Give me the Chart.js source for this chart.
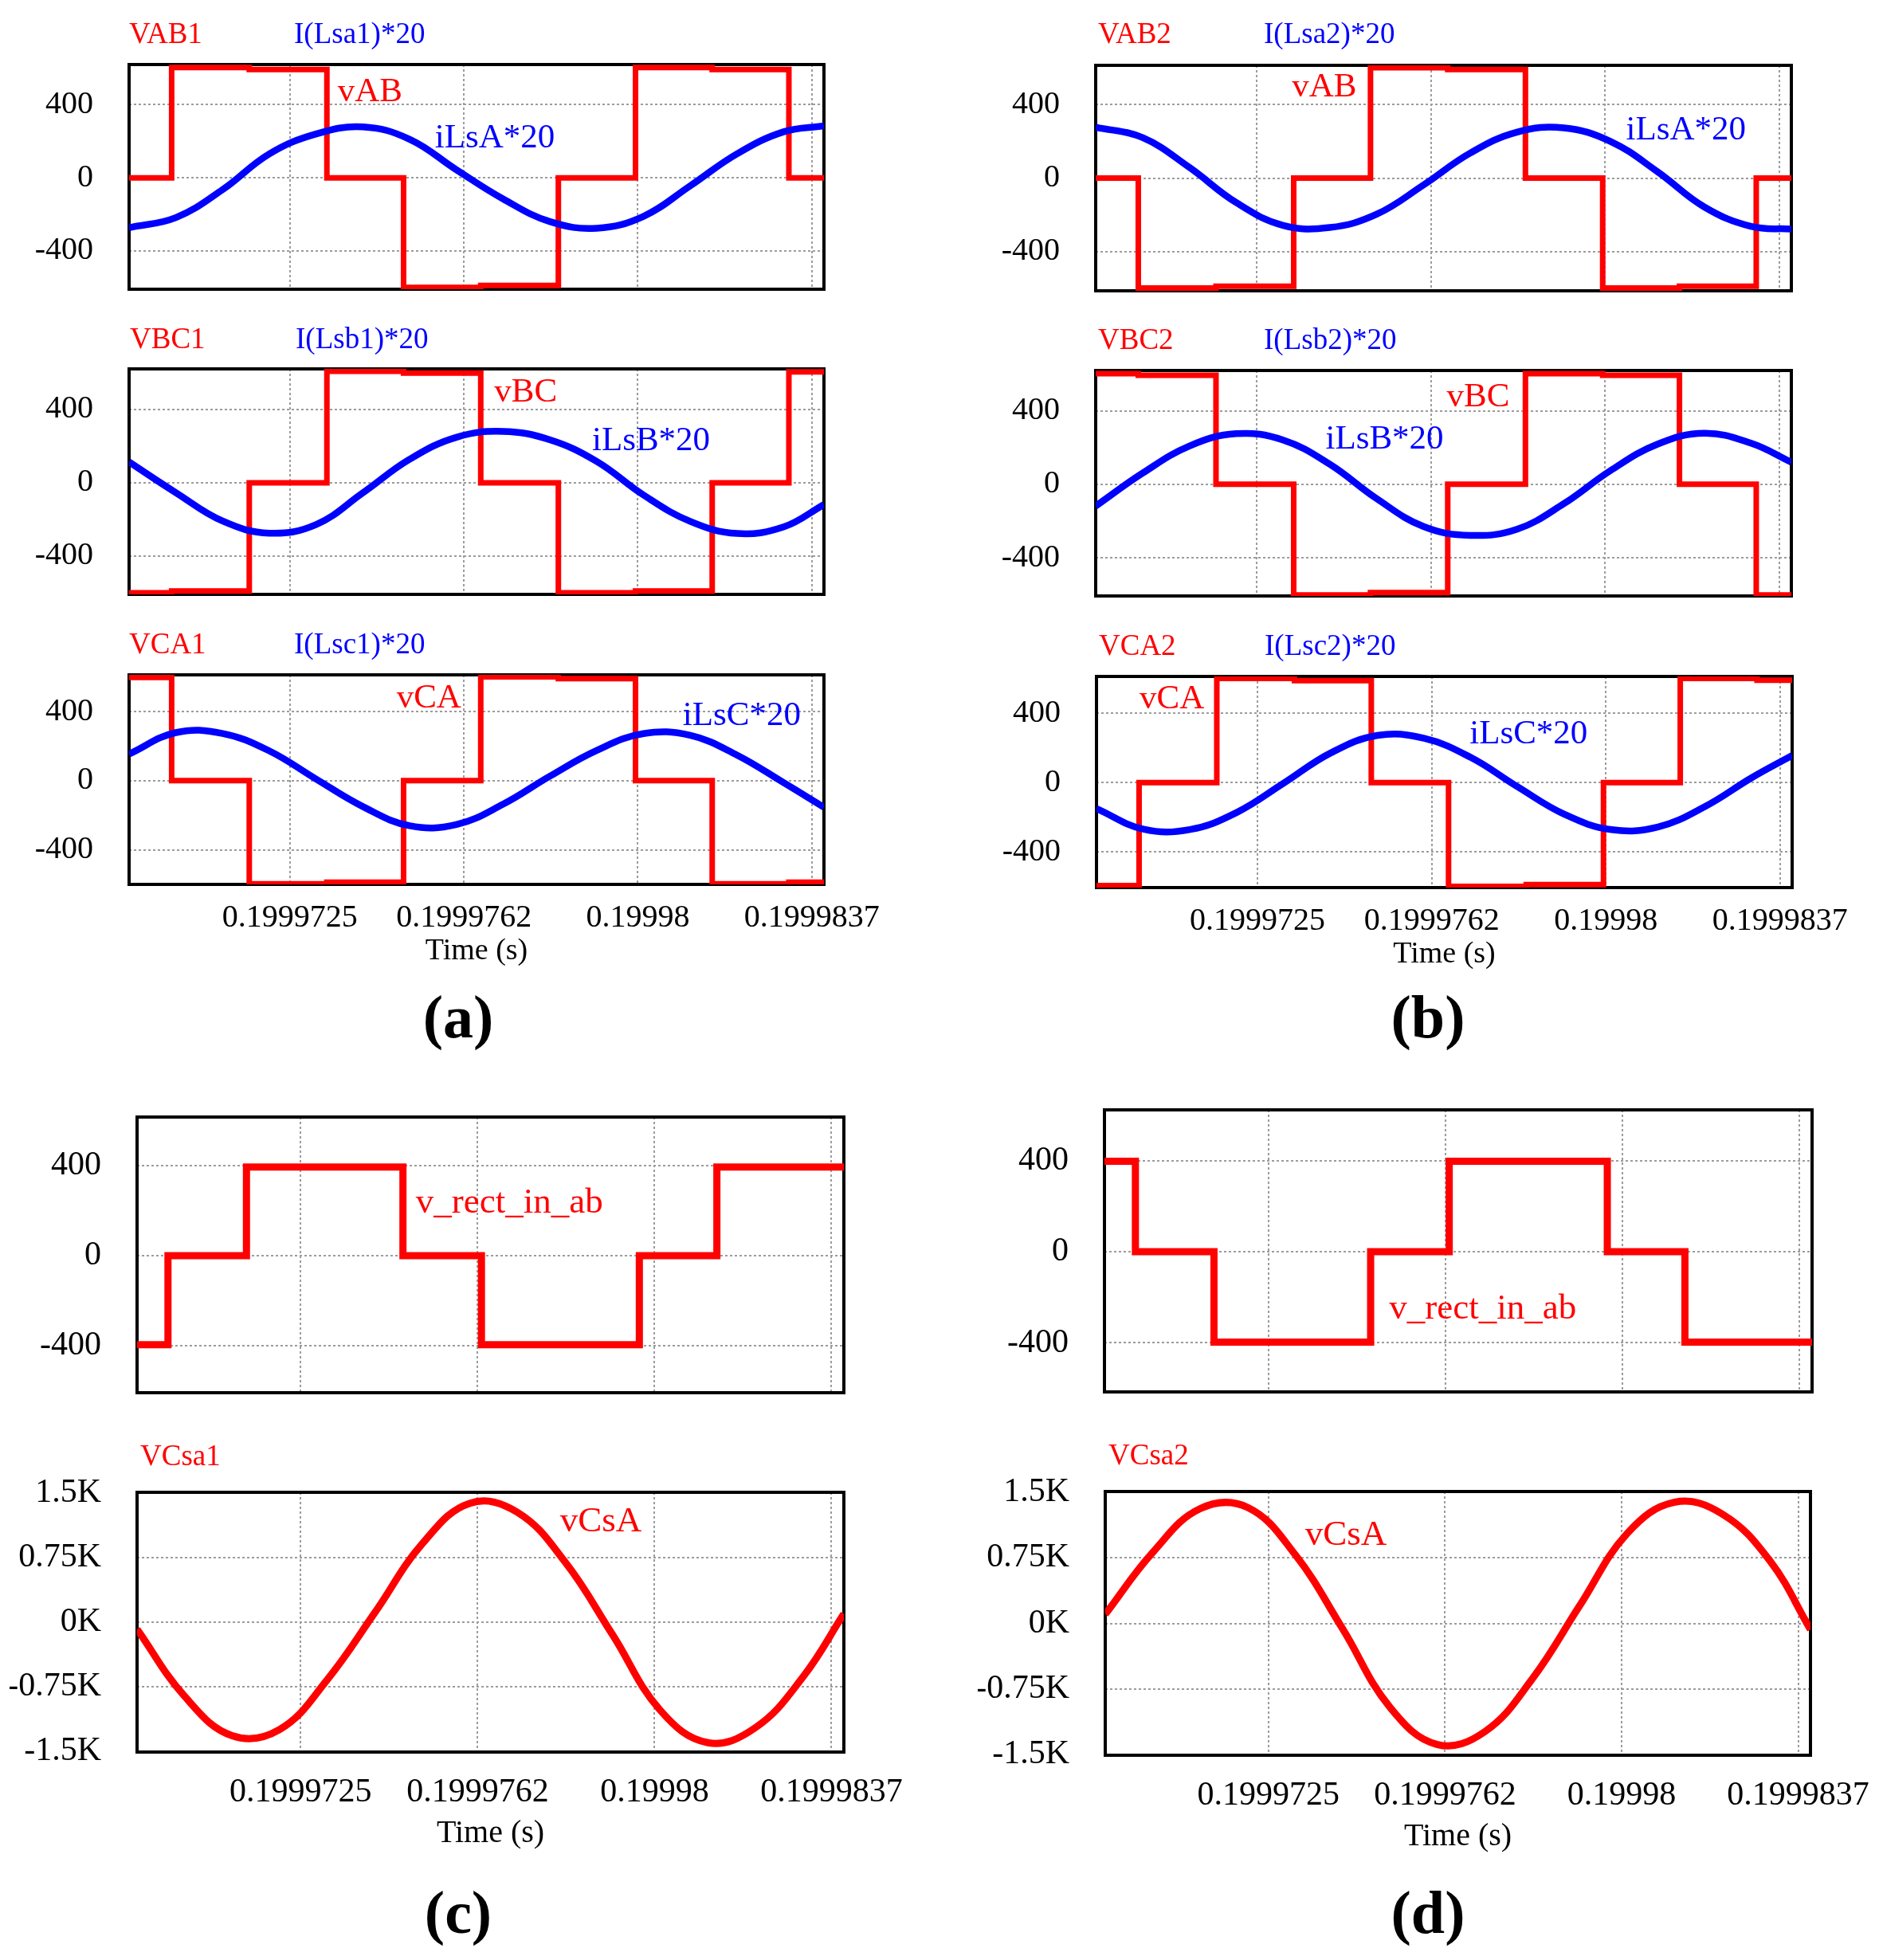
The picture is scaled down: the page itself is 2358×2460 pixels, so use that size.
<!DOCTYPE html>
<html>
<head>
<meta charset="utf-8">
<script src="https://cdn.jsdelivr.net/npm/chart.js@4.4.0/dist/chart.umd.min.js"></script>
<style>
  body { margin: 0; background: #fff; }
  #page { position: relative; width: 2358px; height: 2460px; overflow: hidden; background: #fff;
          font-family: "Liberation Serif", "Times New Roman", serif; }
  #page canvas { position: absolute; }
  .lbl { position: absolute; white-space: nowrap; line-height: 1; }
</style>
</head>
<body>
<div id="page"></div>
<script>
// x axis is in microseconds after t = 0.19996906 s
var xEndUs = 14.86;
var tickUs = [3.44, 7.16, 10.88, 14.60];
var tickLabels = ['0.1999725', '0.1999762', '0.19998', '0.1999837'];

var yTicksV = [-400, 0, 400];
var yLabelsV = ['-400', '0', '400'];
var yTicksK = [-1500, -750, 0, 750, 1500];
var yLabelsK = ['-1.5K', '-0.75K', '0K', '0.75K', '1.5K'];

// switching instants (us) of the line voltages in (a) and (b), level held in each interval
var stepEdgesUs = [0.91, 2.57, 4.23, 5.87, 7.52, 9.18, 10.83, 12.47, 14.11];
var vAB1 = [0, 604, 593, 0, -600, -589, 0, 604, 593, 0];
var vBC1 = [-600, -590, 0, 608, 598, 0, -600, -590, 0, 605];
var vCA1 = [597, 0, -597, -587, 0, 600, 590, 0, -597, -587];
var vAB2 = [0, -598, -588, 0, 600, 590, 0, -598, -588, 0];
var vBC2 = [602, 593, 0, -603, -590, 0, 602, 593, 0, -603];
var vCA2 = [-595, 0, 602, 590, 0, -600, -590, 0, 602, 592];

// rectifier input voltage in (c) and (d)
var rectEdgesUs = [0.65, 2.30, 5.59, 7.24, 10.56, 12.19];
var vRect1 = [-397, 0, 395, 0, -397, 0, 395];
var vRect2 = [397, 0, -397, 0, 397, 0, -397];

// sinusoidal traces read at these instants (us)
var sampleUs = [0, 1, 2, 3, 4, 5, 6, 7, 8, 9, 10, 11, 12, 13, 14, 14.86];
var iLsA1 = [-273, -218, -65, 131, 240, 279, 211, 44, -116, -240, -276, -211, -44, 131, 252, 284];
var iLsB1 = [113, -54, -209, -275, -228, -55, 128, 248, 280, 234, 116, -67, -211, -277, -241, -119];
var iLsC1 = [154, 278, 273, 172, 9, -150, -261, -254, -136, 26, 175, 272, 262, 148, -12, -154];
var iLsA2 = [277, 220, 58, -133, -257, -269, -197, -38, 136, 250, 273, 199, 35, -157, -263, -277];
var iLsB2 = [-119, 60, 208, 275, 241, 109, -78, -230, -278, -245, -106, 75, 218, 278, 223, 120];
var iLsC2 = [-150, -269, -271, -172, -3, 171, 273, 256, 145, -25, -184, -272, -256, -138, 29, 157];
var vCsA1 = [-82, -864, -1323, -1249, -669, 112, 916, 1386, 1279, 700, -149, -1027, -1404, -1229, -638, 98];
var vCsA2 = [105, 814, 1316, 1330, 790, -61, -963, -1390, -1242, -635, 205, 1033, 1390, 1255, 722, -70];

var RED = '#ff0000', BLUE = '#0000ff';
var FONT = '"Liberation Serif", "Times New Roman", serif';
Chart.defaults.font.family = FONT;
Chart.defaults.color = '#000';

var page = document.getElementById('page');

function stepPoints(edges, levels) {
    var pts = [];
    var x0 = 0;
    for (var i = 0; i < levels.length; i++) {
        var x1 = i < edges.length ? edges[i] : xEndUs;
        pts.push({ x: x0, y: levels[i] }, { x: x1, y: levels[i] });
        x0 = x1;
    }
    return pts;
}

function curvePoints(values) {
    return sampleUs.map(function (t, i) { return { x: t, y: values[i] }; });
}

function stepSet(edges, levels, width) {
    return { data: stepPoints(edges, levels), borderColor: RED, borderWidth: width || 7,
             tension: 0, borderJoinStyle: 'miter', borderCapStyle: 'butt' };
}

function curveSet(values, color, width) {
    return { data: curvePoints(values), borderColor: color, borderWidth: width || 8.5,
             tension: 0.4, borderJoinStyle: 'round' };
}

var framePlugin = {
    id: 'frame',
    beforeDatasetsDraw: function (chart) {
        var a = chart.chartArea, c = chart.ctx;
        c.save();
        c.strokeStyle = '#000';
        c.lineWidth = 4;
        c.strokeRect(a.left, a.top, a.right - a.left, a.bottom - a.top);
        c.restore();
    }
};

function labelPlugin(labels) {
    return {
        id: 'inlineLabels',
        afterDatasetsDraw: function (chart) {
            var c = chart.ctx;
            c.save();
            c.textAlign = 'left';
            c.textBaseline = 'alphabetic';
            labels.forEach(function (l) {
                c.font = (l.size || 43) + 'px ' + FONT;
                c.fillStyle = l.color;
                c.fillText(l.text, chart.scales.x.getPixelForValue(l.x), chart.scales.y.getPixelForValue(l.y));
            });
            c.restore();
        }
    };
}

function makeChart(o) {
    var AX = 160, PT = 30, PR = 110, PB = 12;
    var big = o.big;
    var fs = big ? 42 : 40;
    var xh = big ? 126 : 107;
    var bottom = o.showX ? xh : PB;
    var W = o.w + AX + PR, H = o.h + PT + bottom;
    var cv = document.createElement('canvas');
    cv.width = W; cv.height = H;
    cv.style.left = (o.l - AX) + 'px';
    cv.style.top = (o.t - PT) + 'px';
    cv.style.width = W + 'px';
    cv.style.height = H + 'px';
    page.appendChild(cv);

    new Chart(cv.getContext('2d'), {
        type: 'line',
        data: { datasets: o.datasets },
        options: {
            responsive: false,
            animation: false,
            devicePixelRatio: 1,
            layout: { padding: { left: 0, top: PT, right: PR, bottom: o.showX ? 0 : PB } },
            plugins: { legend: { display: false }, tooltip: { enabled: false } },
            elements: { point: { radius: 0 } },
            scales: {
                x: {
                    type: 'linear', min: 0, max: xEndUs,
                    afterBuildTicks: function (s) { s.ticks = tickUs.map(function (v) { return { value: v }; }); },
                    afterFit: function (s) { s.height = o.showX ? xh : 0; s.paddingLeft = 0; s.paddingRight = 0; },
                    ticks: { display: !!o.showX, padding: big ? 26 : 18, maxRotation: 0, autoSkip: false,
                             font: { size: fs }, color: '#000',
                             callback: function (v, i) { return tickLabels[i]; } },
                    grid: { color: '#9c9c9c', lineWidth: 2, drawTicks: false },
                    border: { display: false, dash: [3, 3] },
                    title: { display: !!o.showX, text: 'Time (s)', color: '#000',
                             font: { size: big ? 40 : 38 }, padding: 0 }
                },
                y: {
                    min: o.yMin, max: o.yMax,
                    afterBuildTicks: function (s) { s.ticks = o.yTicks.map(function (v) { return { value: v }; }); },
                    afterFit: function (s) { s.width = AX; s.paddingTop = 0; s.paddingBottom = 0; },
                    ticks: { padding: 45, font: { size: fs }, color: '#000',
                             callback: function (v, i) { return o.yLabels[i]; } },
                    grid: { lineWidth: 2, drawTicks: false,
                            color: function (ctx) {
                                return ctx.tick && Math.abs(ctx.tick.value) >= 1500 ? 'rgba(0,0,0,0)' : '#9c9c9c';
                            } },
                    border: { display: false, dash: [3, 3] }
                }
            }
        },
        plugins: [framePlugin, labelPlugin(o.labels || [])]
    });
}

function addText(text, x, baseline, size, color, bold) {
    var d = document.createElement('div');
    d.className = 'lbl';
    d.textContent = text;
    d.style.left = x + 'px';
    d.style.top = (baseline - 0.8375 * size) + 'px';
    d.style.fontSize = size + 'px';
    d.style.color = color;
    if (bold) d.style.fontWeight = 'bold';
    page.appendChild(d);
}

function addCaption(text, cx, cy) {
    var d = document.createElement('div');
    d.className = 'lbl';
    d.textContent = text;
    d.style.left = cx + 'px';
    d.style.top = cy + 'px';
    d.style.fontSize = '76px';
    d.style.fontWeight = 'bold';
    d.style.transform = 'translate(-50%, -50%)';
    page.appendChild(d);
}

// ---- (a) ----
makeChart({ l: 162, t: 81, w: 872, h: 282, yMin: -610, yMax: 620, yTicks: yTicksV, yLabels: yLabelsV,
    datasets: [curveSet(iLsA1, BLUE), stepSet(stepEdgesUs, vAB1)],
    labels: [{ text: 'vAB', x: 4.46, y: 419, color: RED }, { text: 'iLsA*20', x: 6.54, y: 166, color: BLUE }] });
makeChart({ l: 162, t: 463, w: 872, h: 283, yMin: -609, yMax: 621, yTicks: yTicksV, yLabels: yLabelsV,
    datasets: [curveSet(iLsB1, BLUE), stepSet(stepEdgesUs, vBC1)],
    labels: [{ text: 'vBC', x: 7.81, y: 441, color: RED }, { text: 'iLsB*20', x: 9.90, y: 179, color: BLUE }] });
makeChart({ l: 162, t: 847, w: 872, h: 263, yMin: -600, yMax: 612, yTicks: yTicksV, yLabels: yLabelsV, showX: true,
    datasets: [curveSet(iLsC1, BLUE), stepSet(stepEdgesUs, vCA1)],
    labels: [{ text: 'vCA', x: 5.72, y: 423, color: RED }, { text: 'iLsC*20', x: 11.84, y: 320, color: BLUE }] });

// ---- (b) ----
makeChart({ l: 1375, t: 82, w: 873, h: 283, yMin: -613, yMax: 613, yTicks: yTicksV, yLabels: yLabelsV,
    datasets: [curveSet(iLsA2, BLUE), stepSet(stepEdgesUs, vAB2)],
    labels: [{ text: 'vAB', x: 4.19, y: 442, color: RED }, { text: 'iLsA*20', x: 11.33, y: 209, color: BLUE }] });
makeChart({ l: 1375, t: 465, w: 873, h: 283, yMin: -608, yMax: 619, yTicks: yTicksV, yLabels: yLabelsV,
    datasets: [curveSet(iLsB2, BLUE), stepSet(stepEdgesUs, vBC2)],
    labels: [{ text: 'vBC', x: 7.50, y: 424, color: RED }, { text: 'iLsB*20', x: 4.91, y: 192, color: BLUE }] });
makeChart({ l: 1376, t: 849, w: 873, h: 265, yMin: -607, yMax: 614, yTicks: yTicksV, yLabels: yLabelsV, showX: true,
    datasets: [curveSet(iLsC2, BLUE), stepSet(stepEdgesUs, vCA2)],
    labels: [{ text: 'vCA', x: 0.92, y: 428, color: RED }, { text: 'iLsC*20', x: 7.97, y: 226, color: BLUE }] });

// ---- (c) ----
makeChart({ l: 172, t: 1402, w: 887, h: 346, yMin: -611, yMax: 618, yTicks: yTicksV, yLabels: yLabelsV, big: true,
    datasets: [stepSet(rectEdgesUs, vRect1, 9)],
    labels: [{ text: 'v_rect_in_ab', x: 5.86, y: 193, color: RED, size: 45 }] });
makeChart({ l: 172, t: 1873, w: 887, h: 326, yMin: -1513, yMax: 1513, yTicks: yTicksK, yLabels: yLabelsK, big: true, showX: true,
    datasets: [curveSet(vCsA1, RED, 9)],
    labels: [{ text: 'vCsA', x: 8.89, y: 1060, color: RED, size: 45 }] });

// ---- (d) ----
makeChart({ l: 1386, t: 1393, w: 888, h: 354, yMin: -615, yMax: 622, yTicks: yTicksV, yLabels: yLabelsV, big: true,
    datasets: [stepSet(rectEdgesUs, vRect2, 9)],
    labels: [{ text: 'v_rect_in_ab', x: 5.98, y: -294, color: RED, size: 45 }] });
makeChart({ l: 1387, t: 1872, w: 885, h: 331, yMin: -1513, yMax: 1513, yTicks: yTicksK, yLabels: yLabelsK, big: true, showX: true,
    datasets: [curveSet(vCsA2, RED, 9)],
    labels: [{ text: 'vCsA', x: 4.21, y: 896, color: RED, size: 45 }] });

// trace names above the plots
addText('VAB1', 162, 54, 37, RED);        addText('I(Lsa1)*20', 369, 54, 37, BLUE);
addText('VBC1', 163, 437, 37, RED);       addText('I(Lsb1)*20', 371, 437, 37, BLUE);
addText('VCA1', 162, 820, 37, RED);       addText('I(Lsc1)*20', 369, 820, 37, BLUE);
addText('VAB2', 1378, 54, 37, RED);       addText('I(Lsa2)*20', 1586, 54, 37, BLUE);
addText('VBC2', 1378, 438, 37, RED);      addText('I(Lsb2)*20', 1586, 438, 37, BLUE);
addText('VCA2', 1379, 822, 37, RED);      addText('I(Lsc2)*20', 1587, 822, 37, BLUE);
addText('VCsa1', 176, 1839, 37, RED);
addText('VCsa2', 1391, 1838, 37, RED);

addCaption('(a)', 575, 1276);
addCaption('(b)', 1792, 1276);
addCaption('(c)', 575, 2400);
addCaption('(d)', 1792, 2400);
</script>
</body>
</html>
